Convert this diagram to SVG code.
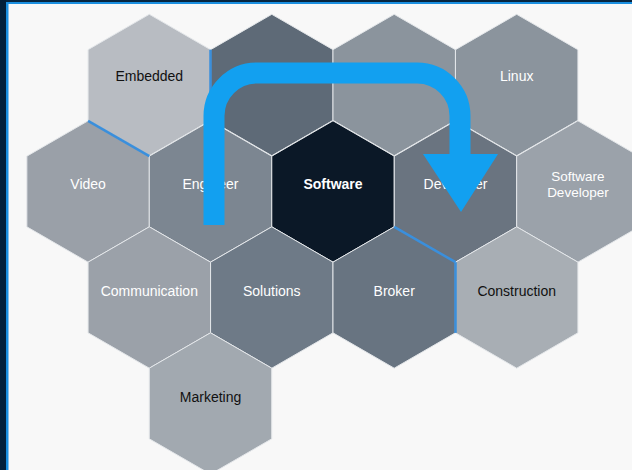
<svg xmlns="http://www.w3.org/2000/svg" xmlns:xlink="http://www.w3.org/1999/xlink" width="632" height="470" viewBox="0 0 632 470">
<style>
.hex{stroke:#e4e7ea;stroke-width:1}
.lbl{font-family:"Liberation Sans",Arial,Helvetica,sans-serif;font-size:14px;text-anchor:middle}
.sm{font-size:13.5px}
.w{fill:#ffffff}
.k{fill:#111111}
.b{font-weight:bold}
.edge{stroke:#3a8fdc;stroke-width:2.5;fill:none}
.arrow{stroke:#12a0f0;stroke-width:21;fill:none}
</style>
<defs>
<polygon id="hx" points="0,-70.7 61.23,-35.35 61.23,35.35 0,70.7 -61.23,35.35 -61.23,-35.35"/>
</defs>
<rect x="0" y="0" width="632" height="470" fill="#f8f8f8"/>
<rect x="0" y="0" width="632" height="2" fill="#062540"/>
<rect x="0" y="2" width="632" height="2" fill="#1a8fe0"/>
<rect x="0" y="0" width="6" height="470" fill="#02203a"/>
<rect x="6" y="2" width="2.5" height="468" fill="#1a8fe0"/>

<g id="n-embedded"><use xlink:href="#hx" href="#hx" x="149.3" y="85" class="hex" fill="#b8bcc2"/><text class="lbl k" x="149.3" y="81">Embedded</text></g>
<g id="n-r1c2"><use xlink:href="#hx" href="#hx" x="271.8" y="85" class="hex" fill="#5e6a77"/></g>
<g id="n-r1c3"><use xlink:href="#hx" href="#hx" x="394.2" y="85" class="hex" fill="#8b949d"/></g>
<g id="n-linux"><use xlink:href="#hx" href="#hx" x="516.7" y="85" class="hex" fill="#8b949d"/><text class="lbl w" x="516.7" y="81">Linux</text></g>

<g id="n-video"><use xlink:href="#hx" href="#hx" x="88.1" y="191.5" class="hex" fill="#9aa0a8"/><text class="lbl w" x="88.1" y="189">Video</text></g>
<g id="n-engineer"><use xlink:href="#hx" href="#hx" x="210.5" y="191.5" class="hex" fill="#7c8691"/><text class="lbl w" x="210.5" y="189">Engineer</text></g>
<g id="n-software"><use xlink:href="#hx" href="#hx" x="333" y="191.5" class="hex" fill="#0b1827"/><text class="lbl w b" x="333" y="189">Software</text></g>
<g id="n-developer"><use xlink:href="#hx" href="#hx" x="455.5" y="191.5" class="hex" fill="#6a7480"/><text class="lbl w" x="455.5" y="189">Developer</text></g>
<g id="n-softdev"><use xlink:href="#hx" href="#hx" x="577.9" y="191.5" class="hex" fill="#9ba2aa"/><text class="lbl sm w" x="577.9" y="181">Software</text><text class="lbl sm w" x="577.9" y="196.5">Developer</text></g>

<g id="n-communication"><use xlink:href="#hx" href="#hx" x="149.3" y="297.5" class="hex" fill="#9ba1a9"/><text class="lbl w" x="149.3" y="296">Communication</text></g>
<g id="n-solutions"><use xlink:href="#hx" href="#hx" x="271.8" y="297.5" class="hex" fill="#6e7a87"/><text class="lbl w" x="271.8" y="296">Solutions</text></g>
<g id="n-broker"><use xlink:href="#hx" href="#hx" x="394.2" y="297.5" class="hex" fill="#687481"/><text class="lbl w" x="394.2" y="296">Broker</text></g>
<g id="n-construction"><use xlink:href="#hx" href="#hx" x="516.7" y="297.5" class="hex" fill="#a8aeb4"/><text class="lbl k" x="516.7" y="296">Construction</text></g>

<g id="n-marketing"><use xlink:href="#hx" href="#hx" x="210.5" y="403.5" class="hex" fill="#a2a9b0"/><text class="lbl k" x="210.5" y="402">Marketing</text></g>

<g id="connectors">
<line class="edge" x1="210.5" y1="49.7" x2="210.5" y2="120.3"/>
<line class="edge" x1="88.1" y1="120.8" x2="149.3" y2="156.2"/>
<line class="edge" x1="394.2" y1="226.9" x2="455.5" y2="262.2"/>
<line class="edge" x1="455.5" y1="262.2" x2="455.5" y2="332.9"/>
<path class="arrow" d="M214,225 V116 A43,43 0 0 1 257,73 H417 A43,43 0 0 1 460,116 V156"/>
<polygon points="423,154 498,154 461,212" fill="#12a0f0"/>
</g>
</svg>
